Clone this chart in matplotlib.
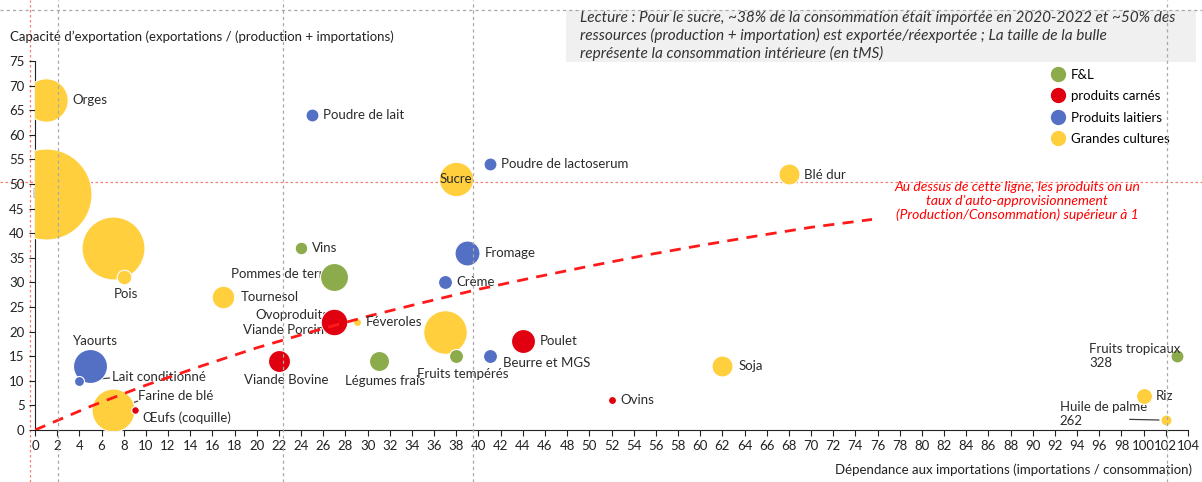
import numpy as np
import matplotlib
matplotlib.use("Agg")
import matplotlib.pyplot as plt
from matplotlib.lines import Line2D
from matplotlib.patches import Rectangle
import matplotlib.transforms as mtransforms

plt.rcParams['font.family'] = ['Lato', 'DejaVu Sans']

# --- donnees ---
produits = ["Orges", "Blé tendre", "Maïs", "Pois", "Farine de blé", "Tournesol", "Féveroles",
            "Colza", "Sucre", "Blé dur", "Soja", "Riz", "Huile de palme\n262",
            "Œufs (coquille)", "Ovoproduits", "Viande Porcine", "Viande Bovine", "Poulet", "Ovins",
            "Poudre de lait", "Poudre de lactoserum", "Fromage", "Crème", "Beurre et MGS",
            "Yaourts", "Lait conditionné",
            "Vins", "Pommes de terre", "Légumes frais", "Fruits tempérés", "Fruits tropicaux\n328"]
dependance = [1, 1, 7, 8, 7, 17, 29, 37, 38, 68, 62, 100, 102,
              9, 27, 27, 22, 44, 52,
              25, 41, 39, 37, 41, 5, 4,
              24, 27, 31, 38, 103]
capacite = [67, 48, 37, 31, 4, 27, 22, 20, 51, 52, 13, 7, 2,
            4, 22, 22, 14, 18, 6,
            64, 54, 36, 30, 15, 13, 10,
            37, 31, 14, 15, 15]
# taille de bulle (consommation interieure, rayon relatif)
taille = [21.7, 45.5, 31.5, 7.3, 21.5, 11.3, 4.0, 21.8, 17.2, 10.5, 10.5, 8.0, 5.5,
          3.8, 5.0, 13.3, 11.0, 12.0, 4.0,
          6.5, 6.5, 12.5, 7.0, 7.0, 17.0, 5.0,
          6.3, 14.0, 10.0, 7.0, 6.5]
categorie = ["GC"] * 13 + ["CA"] * 6 + ["LA"] * 7 + ["FL"] * 5

# ligne taux d'auto-approvisionnement = 1 (points lus)
ligne_x = [0, 5, 10, 15, 20, 25, 30, 35, 40, 45, 50, 55, 60, 65, 70, 75.5]
ligne_y = [0, 4.8, 9.1, 13.0, 16.7, 20.0, 23.1, 25.9, 28.6, 31.0, 33.3, 35.5, 37.5, 39.4, 41.2, 42.8]

noms_cat = ["F&L", "produits carnés", "Produits laitiers", "Grandes cultures"]
codes_cat = ["FL", "CA", "LA", "GC"]
couleurs = {"FL": "#8CAB4A", "CA": "#E1000F", "LA": "#5470C4", "GC": "#FFCF3D"}

# position des etiquettes (decalage en pixels, alignement)
etiq = {
    "Orges": (26, 0, "left"), "Blé tendre": (-14, 0, "left"), "Maïs": None, "Pois": (2, -17, "center"),
    "Farine de blé": (25, 14, "left"), "Tournesol": (17, 0, "left"), "Féveroles": (9, 0, "left"),
    "Colza": None, "Sucre": (0, 0, "center"), "Blé dur": (15, -1, "left"), "Soja": (16, 0, "left"),
    "Riz": (12, 0, "left"), "Huile de palme\n262": (-106, 6, "left"),
    "Œufs (coquille)": (8, -7, "left"), "Ovoproduits": (-79, 7, "left"),
    "Viande Porcine": (-91, -8, "left"), "Viande Bovine": (7, -19, "center"),
    "Poulet": (17, 0, "left"), "Ovins": (9, 0, "left"),
    "Poudre de lait": (11, 0, "left"), "Poudre de lactoserum": (11, 0, "left"),
    "Fromage": (17, 0, "left"), "Crème": (11, 0, "left"), "Beurre et MGS": (13, -7, "left"),
    "Yaourts": (5, 25, "center"), "Lait conditionné": (33, 4, "left"),
    "Vins": (11, 0, "left"), "Pommes de terre": (-103, 3, "left"), "Légumes frais": (6, -20, "center"),
    "Fruits tempérés": (6, -18, "center"), "Fruits tropicaux\n328": (-88, 0, "left"),
}
# traits de rappel : point de depart sur le texte
fleches = {"Lait conditionné": (-0.03, 0.4), "Farine de blé": (0.0, 0.1), "Huile de palme\n262": (0.8, 0.3)}

fig = plt.figure(figsize=(12.02, 4.82), dpi=100)
ax = fig.add_axes([35/1202, 1-430/482, (1188-35)/1202, (430-61)/482])
ax.patch.set_alpha(0)

px = 72/fig.dpi  # pixel -> points
for i in range(len(produits)):
    ax.scatter(dependance[i], capacite[i], s=(2*taille[i]*px)**2, color=couleurs[categorie[i]],
               edgecolors="white", linewidths=0.8, zorder=3, clip_on=True)

ax.plot(ligne_x, ligne_y, color="#FF1A1A", lw=2, ls=(0, (4, 3)), zorder=4)

for i, nom in enumerate(produits):
    e = etiq.get(nom)
    if e is None:
        continue
    dx, dy, ha = e
    col = "#2b2b2b"
    z = 5
    if nom in ["Blé tendre"]:
        col = "#c8c8c8"; z = 2
    if nom in ["Pommes de terre", "Ovoproduits", "Viande Porcine"]:
        z = 2
    if nom in fleches:
        ax.annotate(nom, (dependance[i], capacite[i]), xytext=(dx*px, dy*px), textcoords="offset points",
                    ha=ha, va="center", fontsize=9.5, color=col, zorder=2,
                    arrowprops=dict(arrowstyle="-", color="#404040", lw=0.9, patchA=None,
                                    shrinkA=0, shrinkB=taille[i]*px + 1, relpos=fleches[nom]))
    else:
        ax.annotate(nom, (dependance[i], capacite[i]), xytext=(dx*px, dy*px), textcoords="offset points",
                    ha=ha, va="center", fontsize=9.5, color=col, zorder=z)

ax.set_xlim(0, 104)
ax.set_ylim(0, 75)
ax.set_xticks(np.arange(0, 105, 2))
ax.set_yticks(np.arange(0, 76, 5))
ax.tick_params(labelsize=9.5, colors="#222222", length=4, direction="out")
for s in ["top", "right"]:
    ax.spines[s].set_visible(False)
for s in ["left", "bottom"]:
    ax.spines[s].set_color("#222222")

fig.text(10/1202, 1-37/482, "Capacité d’exportation (exportations / (production + importations)",
         fontsize=9.5, color="#222222", ha="left", va="center")
fig.text(1192/1202, 1-470/482, "Dépendance aux importations (importations / consommation)",
         fontsize=9.5, color="#222222", ha="right", va="center")

# legende
poignees = [Line2D([], [], ls="", marker="o", markersize=10, color=couleurs[c]) for c in codes_cat]
ax.legend(poignees, noms_cat, loc="upper left", bbox_to_anchor=(1043/1202, 1-62/482),
          bbox_transform=fig.transFigure, frameon=False, fontsize=9.5, handletextpad=0.4,
          labelspacing=0.72, handlelength=1.2, borderpad=0)

# encadre de lecture
fig.add_artist(Rectangle((566/1202, 1-62/482), 630/1202, 52/482, transform=fig.transFigure,
                         facecolor="#F0F0F0", edgecolor="none", zorder=-2))
fig.text(580/1202, 1-36/482,
         "Lecture : Pour le sucre, ~38% de la consommation était importée en 2020-2022 et ~50% des\n"
         "ressources (production + importation) est exportée/réexportée ; La taille de la bulle\n"
         "représente la consommation intérieure (en tMS)",
         fontsize=11.1, style="italic", color="#333333", ha="left", va="center", linespacing=1.22)

fig.text(1017/1202, 1-201/482,
         "Au dessus de cette ligne, les produits on un\ntaux d’auto-approvisionnement\n(Production/Consommation) supérieur à 1",
         fontsize=10, style="italic", color="#FF0000", ha="center", va="center", linespacing=1.12)

# lignes guides
tr_v = mtransforms.blended_transform_factory(ax.transData, fig.transFigure)
for gx in [2.1, 22.4, 39.5, 102.1]:
    fig.add_artist(Line2D([gx, gx], [0, 1], transform=tr_v, color="#A8A8A8", lw=0.9,
                          ls=(0, (2.5, 2.5)), zorder=6))
fig.add_artist(Line2D([0, 1], [1-10/482, 1-10/482], transform=fig.transFigure, color="#A8A8A8",
                      lw=0.9, ls=(0, (2.5, 2.5)), zorder=6))
tr_h = mtransforms.blended_transform_factory(fig.transFigure, ax.transData)
fig.add_artist(Line2D([0, 1], [50.4, 50.4], transform=tr_h, color="#F08070", lw=0.9,
                      ls=(0, (2, 2)), zorder=-1))
fig.add_artist(Line2D([30/1202, 30/1202], [0, 1], transform=fig.transFigure, color="#F08070",
                      lw=0.9, ls=(0, (2, 2)), zorder=-1))

fig.savefig("out.png", dpi=100)
